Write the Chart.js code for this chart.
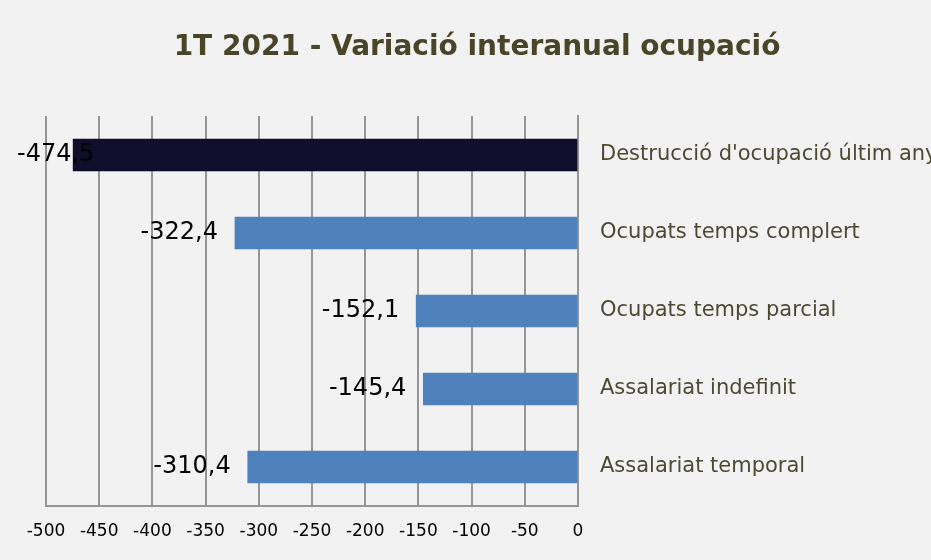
<!DOCTYPE html>
<html>
<head>
<meta charset="utf-8">
<script src="https://cdn.jsdelivr.net/npm/chart.js@4"></script>
<style>
  html, body { margin: 0; padding: 0; background: #f2f2f2; }
  canvas { display: block; }
</style>
</head>
<body>
<canvas id="mainChart" width="931" height="560"></canvas>
<script>
// === Chart data ===
const titleText = "1T 2021 - Variació interanual ocupació";
const categories = [
  "Destrucció d'ocupació últim any",
  "Ocupats temps complert",
  "Ocupats temps parcial",
  "Assalariat indefinit",
  "Assalariat temporal"
];
const values = [-474.5, -322.4, -152.1, -145.4, -310.4];
const barColors = ["#100e2b", "#4f81bd", "#4f81bd", "#4f81bd", "#4f81bd"];
const xTicks = [-500, -450, -400, -350, -300, -250, -200, -150, -100, -50, 0];

const fontFamily = "'DejaVu Sans', Verdana, sans-serif";
const gridColor = "#959595";

// === Title drawn by hand so it can sit a bit right of centre ===
const titlePlugin = {
  id: "customTitle",
  afterDraw(chart) {
    const c = chart.ctx;
    c.save();
    c.font = "bold 28px " + fontFamily;
    c.fillStyle = "#4a4529";
    c.textAlign = "center";
    c.textBaseline = "middle";
    c.fillText(titleText, 477, 48);
    c.restore();
  }
};

// === Value labels to the left of each bar end ===
const valueLabels = {
  id: "valueLabels",
  afterDatasetsDraw(chart) {
    const c = chart.ctx;
    const meta = chart.getDatasetMeta(0);
    c.save();
    c.font = "24px " + fontFamily;
    c.fillStyle = "#000000";
    c.textBaseline = "middle";
    c.textAlign = "left";
    meta.data.forEach((bar, i) => {
      const txt = values[i].toFixed(1).replace(".", ",");
      const w = c.measureText(txt).width;
      let left = bar.x - 17 - w;
      if (left < 17) left = 17;
      c.fillText(txt, left, bar.y);
    });
    c.restore();
  }
};

new Chart(document.getElementById("mainChart").getContext("2d"), {
  type: "bar",
  data: {
    labels: categories,
    datasets: [{
      data: values,
      backgroundColor: barColors,
      barThickness: 32,
      borderWidth: 0
    }]
  },
  options: {
    indexAxis: "y",
    responsive: false,
    animation: false,
    layout: { padding: { top: 116, left: 46, right: 0, bottom: 0 } },
    plugins: {
      legend: { display: false },
      title: { display: false },
      tooltip: { enabled: false }
    },
    scales: {
      x: {
        min: -500,
        max: 0,
        afterBuildTicks(scale) {
          scale.ticks = xTicks.map(v => ({ value: v }));
        },
        afterFit(scale) { scale.height = 54; },
        grid: { color: gridColor, lineWidth: 2, drawTicks: false },
        border: { color: gridColor, width: 2 },
        ticks: {
          padding: 15,
          color: "#000000",
          font: { family: fontFamily, size: 17 },
          maxRotation: 0,
          autoSkip: false
        }
      },
      y: {
        position: "right",
        afterFit(scale) { scale.width = 931 - 578; },
        grid: { display: false },
        border: { color: gridColor, width: 2 },
        ticks: {
          padding: 14,
          color: "#4d4a33",
          font: { family: fontFamily, size: 21 }
        }
      }
    }
  },
  plugins: [titlePlugin, valueLabels]
});
</script>
</body>
</html>
